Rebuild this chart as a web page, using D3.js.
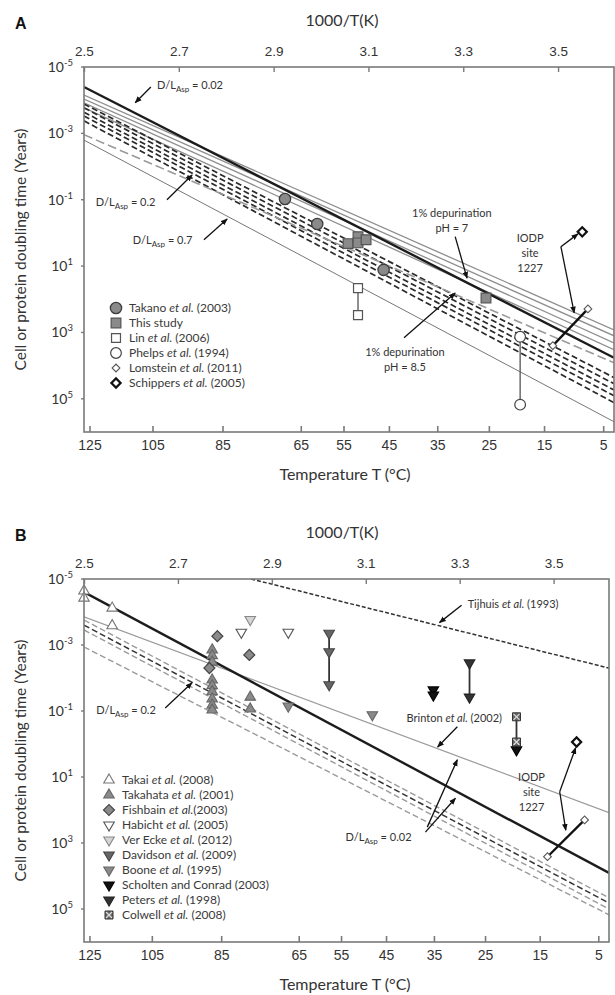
<!DOCTYPE html>
<html>
<head>
<meta charset="utf-8">
<script src="https://cdn.jsdelivr.net/npm/d3@7"></script>
<style>
  body { margin: 0; background: #fff; }
  svg { font-family: Lato, "Open Sans", sans-serif; }
</style>
</head>
<body>
<svg id="chart" width="615" height="995"></svg>
<script>
// ticks
const invTTicks = [2.5, 2.7, 2.9, 3.1, 3.3, 3.5];
const tempTicks = [125, 105, 85, 65, 55, 45, 35, 25, 15, 5];
const yTickExp = [-5, -3, -1, 1, 3, 5];

// model lines: [1000/T start, years start, 1000/T end, years end]
const aLineKinds = ["ph7", "ph7", "ph7", "ph7", "dl002", "ph85", "ph85", "ph85", "ph85", "ph85", "dl02", "dl07"];
const aLines = [
  [2.5, 7.0e-5, 3.618, 8.4e2],
  [2.5, 9.2e-5, 3.618, 1.26e3],
  [2.5, 1.2e-4, 3.618, 2.06e3],
  [2.5, 1.7e-4, 3.618, 3.3e3],
  [2.5, 4.0e-5, 3.618, 5.8e3],
  [2.5, 1.3e-4, 3.618, 2.3e4],
  [2.5, 1.7e-4, 3.618, 3.5e4],
  [2.5, 2.3e-4, 3.618, 5.4e4],
  [2.5, 3.0e-4, 3.618, 8.1e4],
  [2.5, 4.2e-4, 3.618, 1.3e5],
  [2.5, 1.1e-3, 3.618, 8.2e3],
  [2.5, 1.6e-3, 3.618, 4.9e5]
];
const bLineKinds = ["brinton", "tijhuis", "dl02g", "dl02k", "dl02g", "dl02g", "dl002"];
const bLines = [
  [2.5, 1.4e-4, 3.618, 1.2e2],
  [2.856, 1.0e-5, 3.618, 5.0e-3],
  [2.5, 1.75e-4, 3.618, 4.6e4],
  [2.5, 2.5e-4, 3.618, 6.6e4],
  [2.5, 3.5e-4, 3.618, 1.0e5],
  [2.5, 1.15e-3, 3.618, 1.5e5],
  [2.5, 2.5e-5, 3.618, 8.1e3]
];

// observations [1000/T, years]
const takano = [[2.924, 0.095], [2.992, 0.54], [3.132, 13]];
const thisStudy = [[3.057, 2.1], [3.078, 1.3], [3.078, 2.0], [3.095, 1.6], [3.348, 91]];
const lin = [[3.078, 46], [3.078, 300]];
const phelps = [[3.42, 1350], [3.42, 1.5e5]];
const lomsteinA = [[3.489, 2500], [3.563, 195]];
const schippersA = [[3.551, 0.93]];

const takai = [[2.5, 2.3e-5], [2.5, 3.8e-5], [2.56, 7.6e-5], [2.56, 2.6e-4]];
const takahata = [[2.773, 1.4e-3], [2.773, 2.1e-3], [2.773, 3.3e-3], [2.773, 1.15e-2], [2.773, 1.7e-2],
  [2.773, 2.6e-2], [2.773, 4.3e-2], [2.773, 6.6e-2], [2.773, 9.3e-2], [2.854, 3.8e-2], [2.854, 8.7e-2]];
const fishbain = [[2.784, 5.4e-4], [2.852, 2.0e-3], [2.767, 5.0e-3]];
const habicht = [[2.835, 4.1e-4], [2.935, 4.1e-4]];
const verEcke = [[2.854, 1.7e-4]];
const davidson = [[3.022, 4.4e-4], [3.022, 1.6e-3], [3.022, 1.6e-2]];
const boone = [[2.935, 7.1e-2], [3.114, 0.13]];
const scholten = [[3.244, 2.3e-2], [3.244, 3.3e-2], [3.421, 1.5]];
const peters = [[3.321, 3.5e-3], [3.321, 3.8e-2]];
const colwell = [[3.421, 0.15], [3.421, 0.87]];
const lomsteinB = [[3.487, 2600], [3.566, 200]];
const schippersB = [[3.549, 0.87]];

// connectors between observations
const aLinkKinds = ["thin", "thin", "thick"];
const aLinks = [[3.078, 46, 3.078, 300], [3.42, 1350, 3.42, 1.5e5], [3.489, 2500, 3.563, 195]];
const bLinkKinds = ["mid", "mid", "mid", "thick"];
const bLinks = [[3.022, 4.4e-4, 3.022, 1.6e-2], [3.321, 3.5e-3, 3.321, 3.8e-2],
  [3.421, 0.15, 3.421, 1.5], [3.487, 2600, 3.566, 200]];

// annotation arrows [from x, from t, to x, to t]
const aArrows = [
  [2.641, 4.0e-5, 2.608, 1.2e-4],
  [2.675, 0.10, 2.728, 0.018],
  [2.753, 1.6, 2.802, 0.38],
  [3.283, 1.3, 3.308, 23],
  [3.175, 1450, 3.283, 65],
  [3.506, 2.6, 3.542, 1.07],
  [3.506, 2.6, 3.534, 257]
];
const bArrows = [
  [3.304, 6.2e-5, 3.257, 2.1e-4],
  [2.673, 0.081, 2.730, 0.014],
  [3.295, 0.30, 3.253, 1.23],
  [3.231, 330, 3.295, 3.0],
  [3.227, 470, 3.291, 44],
  [3.513, 28, 3.547, 1.3],
  [3.513, 28, 3.526, 410]
];

// annotation texts [text, 1000/T, years]
const aNotes = [
  ["DL|0.02", 2.654, 3.5e-5, "start"],
  ["DL|0.2", 2.525, 0.117, "start"],
  ["DL|0.7", 2.603, 1.6, "start"],
  ["1% depurination", 3.276, 0.25, "middle"],
  ["pH = 7", 3.276, 0.71, "middle"],
  ["1% depurination", 3.177, 3800, "middle"],
  ["pH = 8.5", 3.177, 1.1e4, "middle"],
  ["IODP", 3.441, 1.4, "middle"],
  ["site", 3.441, 4.0, "middle"],
  ["1227", 3.441, 11.2, "middle"]
];
const bNotes = [
  ["Tijhuis et al. (1993)", 3.317, 5.8e-5, "start"],
  ["DL|0.2", 2.526, 0.093, "start"],
  ["Brinton et al. (2002)", 3.187, 0.16, "start"],
  ["DL|0.02", 3.057, 660, "start"],
  ["IODP", 3.453, 10, "middle"],
  ["site", 3.453, 28, "middle"],
  ["1227", 3.453, 81, "middle"]
];

const aLegend = ["Takano et al. (2003)", "This study", "Lin et al. (2006)", "Phelps et al. (1994)",
  "Lomstein et al. (2011)", "Schippers et al. (2005)"];
const aLegendKeys = ["takano", "thisStudy", "lin", "phelps", "lomstein", "schippers"];
const bLegend = ["Takai et al. (2008)", "Takahata et al. (2001)", "Fishbain et al.(2003)", "Habicht et al. (2005)",
  "Ver Ecke et al. (2012)", "Davidson et al. (2009)", "Boone et al. (1995)", "Scholten and Conrad (2003)",
  "Peters et al. (1998)", "Colwell et al. (2008)"];
const bLegendKeys = ["takai", "takahata", "fishbain", "habicht", "verEcke", "davidson", "boone", "scholten", "peters", "colwell"];

// ---- styles ----
const lineStyle = {
  dl002: { stroke: "#1c1c1c", w: 2.4, dash: null },
  ph7: { stroke: "#8e8e8e", w: 1.3, dash: null },
  ph85: { stroke: "#2a2a2a", w: 1.7, dash: "6,3" },
  dl02: { stroke: "#9a9a9a", w: 1.6, dash: "9,4" },
  dl07: { stroke: "#777", w: 1, dash: null },
  brinton: { stroke: "#9a9a9a", w: 1.2, dash: null },
  tijhuis: { stroke: "#333", w: 1.5, dash: "4,2" },
  dl02k: { stroke: "#333", w: 1.5, dash: "6,3" },
  dl02g: { stroke: "#9a9a9a", w: 1.4, dash: "6,3" }
};
const linkStyle = {
  thin: { stroke: "#555", w: 1.3 },
  mid: { stroke: "#333", w: 1.8 },
  thick: { stroke: "#111", w: 2.3 }
};
const tri = d3.symbol().type(d3.symbolTriangle).size(48)();
const sym = {
  takano: { path: d3.symbol().type(d3.symbolCircle).size(100)(), fill: "#8a8a8a", stroke: "#3c3c3c", w: 1.3 },
  thisStudy: { path: d3.symbol().type(d3.symbolSquare).size(95)(), fill: "#8a8a8a", stroke: "#555", w: 1.2 },
  lin: { path: d3.symbol().type(d3.symbolSquare).size(80)(), fill: "#fff", stroke: "#555", w: 1.2 },
  phelps: { path: d3.symbol().type(d3.symbolCircle).size(90)(), fill: "#fff", stroke: "#444", w: 1.2 },
  lomstein: { path: d3.symbol().type(d3.symbolSquare).size(30)(), fill: "#fff", stroke: "#555", w: 1.1, rot: 45 },
  schippers: { path: d3.symbol().type(d3.symbolSquare).size(42)(), fill: "#fff", stroke: "#111", w: 2.2, rot: 45 },
  takai: { path: tri, fill: "#fff", stroke: "#777", w: 1.1 },
  takahata: { path: tri, fill: "#8a8a8a", stroke: "#666", w: 1.1 },
  fishbain: { path: d3.symbol().type(d3.symbolSquare).size(60)(), fill: "#8a8a8a", stroke: "#444", w: 1.2, rot: 45 },
  habicht: { path: tri, fill: "#fff", stroke: "#555", w: 1.1, rot: 180 },
  verEcke: { path: tri, fill: "#d4d4d4", stroke: "#888", w: 1.1, rot: 180 },
  davidson: { path: tri, fill: "#666", stroke: "#444", w: 1.1, rot: 180 },
  boone: { path: tri, fill: "#8a8a8a", stroke: "#666", w: 1.1, rot: 180 },
  scholten: { path: tri, fill: "#111", stroke: "#000", w: 1.1, rot: 180 },
  peters: { path: tri, fill: "#333", stroke: "#222", w: 1.1, rot: 180 },
  colwell: { path: d3.symbol().type(d3.symbolSquare).size(64)(), fill: "#666", stroke: "#333", w: 1, cross: true }
};

const svg = d3.select("#chart");
const defs = svg.append("defs");
defs.append("marker").attr("id", "arr")
  .attr("viewBox", "0 0 10 8").attr("refX", 9).attr("refY", 4)
  .attr("markerWidth", 7).attr("markerHeight", 6).attr("markerUnits", "userSpaceOnUse")
  .attr("orient", "auto")
  .append("path").attr("d", "M0,0L10,4L0,8Z").attr("fill", "#111");

function putSymbol(g, key, px, py) {
  const s = sym[key];
  const node = g.append("g").attr("transform", `translate(${px},${py})`);
  node.append("path").attr("d", s.path)
    .attr("transform", s.rot ? `rotate(${s.rot})` : null)
    .attr("fill", s.fill).attr("stroke", s.stroke).attr("stroke-width", s.w);
  if (s.cross) {
    node.append("path").attr("d", "M-3,-3L3,3M-3,3L3,-3").attr("stroke", "#ddd").attr("stroke-width", 1.2);
  }
}

function richText(sel, str) {
  const parts = str.split("et al.");
  parts.forEach((p, i) => {
    if (p) sel.append("tspan").text(p);
    if (i < parts.length - 1) sel.append("tspan").attr("font-style", "italic").text("et al.");
  });
}

function noteText(g, str, px, py, anchor) {
  const t = g.append("text").attr("x", px).attr("y", py).attr("dy", "0.35em")
    .attr("text-anchor", anchor).attr("font-size", 11).attr("fill", "#333");
  if (str.startsWith("DL|")) {
    t.append("tspan").text("D/L");
    t.append("tspan").attr("font-size", 8).attr("dy", 3).text("Asp");
    t.append("tspan").attr("dy", -3).text(" = " + str.slice(3));
  } else {
    richText(t, str);
  }
}

function panel(cfg) {
  const g = svg.append("g");
  const x = d3.scaleLinear().domain([2.5, 3.618]).range([cfg.left, cfg.right]);
  const y = d3.scaleLog().domain([1e-5, 1e6]).range([cfg.top, cfg.bottom]);
  const W = cfg.right - cfg.left, H = cfg.bottom - cfg.top;

  defs.append("clipPath").attr("id", "clip" + cfg.id).append("rect")
    .attr("x", cfg.left).attr("y", cfg.top).attr("width", W).attr("height", H);

  // panel letter and titles
  g.append("text").attr("x", 15).attr("y", cfg.top - 38).attr("font-family", "'Liberation Sans', Arial, sans-serif")
    .attr("font-weight", "bold").attr("font-size", 16).attr("fill", "#111").text(cfg.id);
  g.append("text").attr("x", 342).attr("y", cfg.top - 41).attr("text-anchor", "middle")
    .attr("font-size", 16).attr("fill", "#333").text("1000/T(K)");
  g.append("text").attr("x", 345).attr("y", cfg.bottom + 48).attr("text-anchor", "middle")
    .attr("font-size", 16).attr("fill", "#333").text("Temperature T (°C)");
  g.append("text").attr("transform", `translate(26,${cfg.top + H / 2}) rotate(-90)`)
    .attr("text-anchor", "middle").attr("font-size", 15.5).attr("fill", "#333")
    .text("Cell or protein doubling time (Years)");

  // model lines
  const lg = g.append("g").attr("clip-path", `url(#clip${cfg.id})`);
  cfg.lines.forEach((d, i) => {
    const s = lineStyle[cfg.kinds[i]];
    lg.append("line")
      .attr("x1", x(d[0])).attr("y1", y(d[1])).attr("x2", x(d[2])).attr("y2", y(d[3]))
      .attr("stroke", s.stroke).attr("stroke-width", s.w).attr("stroke-dasharray", s.dash);
  });

  // connectors
  cfg.links.forEach((d, i) => {
    const s = linkStyle[cfg.linkKinds[i]];
    g.append("line")
      .attr("x1", x(d[0])).attr("y1", y(d[1])).attr("x2", x(d[2])).attr("y2", y(d[3]))
      .attr("stroke", s.stroke).attr("stroke-width", s.w);
  });

  // observations
  cfg.series.forEach(([key, pts]) => {
    pts.forEach(p => putSymbol(g, key, x(p[0]), y(p[1])));
  });

  // arrows
  cfg.arrows.forEach(d => {
    g.append("line")
      .attr("x1", x(d[0])).attr("y1", y(d[1])).attr("x2", x(d[2])).attr("y2", y(d[3]))
      .attr("stroke", "#111").attr("stroke-width", 1.3).attr("marker-end", "url(#arr)");
  });

  // notes
  cfg.notes.forEach(d => noteText(g, d[0], x(d[1]), y(d[2]), d[3]));

  // frame
  g.append("rect").attr("x", cfg.left).attr("y", cfg.top).attr("width", W).attr("height", H)
    .attr("fill", "none").attr("stroke", "#7a7a7a").attr("stroke-width", 1.6);

  // top axis
  const topAx = g.append("g").attr("transform", `translate(0,${cfg.top})`)
    .call(d3.axisTop(x).tickValues(invTTicks).tickFormat(d3.format(".1f"))
      .tickSizeInner(-5).tickSizeOuter(0).tickPadding(11));
  topAx.select(".domain").remove();
  topAx.selectAll("line").attr("stroke", "#7a7a7a").attr("stroke-width", 1.4);
  topAx.selectAll("text").attr("font-size", 13.5).attr("fill", "#333").attr("font-family", null);

  // bottom axis (°C)
  const botAx = g.append("g").attr("transform", `translate(0,${cfg.bottom})`)
    .call(d3.axisBottom(x).tickValues(tempTicks.map(t => 1000 / (t + 273.15)))
      .tickFormat((d, i) => tempTicks[i]).tickSizeInner(-6).tickSizeOuter(0).tickPadding(8));
  botAx.select(".domain").remove();
  botAx.selectAll("line").attr("stroke", "#7a7a7a").attr("stroke-width", 1.6);
  botAx.selectAll("text").attr("font-size", 14).attr("fill", "#333").attr("font-family", null);

  // left axis (log years)
  yTickExp.forEach(e => {
    const py = y(Math.pow(10, e));
    g.append("line").attr("x1", cfg.left - 3).attr("x2", cfg.left).attr("y1", py).attr("y2", py)
      .attr("stroke", "#7a7a7a").attr("stroke-width", 1.4);
    const t = g.append("text").attr("x", cfg.left - 11).attr("y", py).attr("dy", "0.35em")
      .attr("text-anchor", "end").attr("font-size", 14).attr("fill", "#333");
    t.append("tspan").text("10");
    t.append("tspan").attr("font-size", 9.5).attr("dy", -6).text(e < 0 ? "-" + Math.abs(e) : String(e));
  });

  // legend
  cfg.legend.forEach((label, i) => {
    const py = cfg.legendY + i * 15;
    putSymbol(g, cfg.legendKeys[i], cfg.legendX, py);
    const t = g.append("text").attr("x", cfg.legendX + 13).attr("y", py).attr("dy", "0.35em")
      .attr("font-size", 12).attr("fill", "#3a3a3a");
    richText(t, label);
  });
}

panel({
  id: "A", left: 84, right: 614, top: 67, bottom: 432,
  lines: aLines, kinds: aLineKinds, links: aLinks, linkKinds: aLinkKinds,
  series: [["takano", takano], ["thisStudy", thisStudy], ["lin", lin], ["phelps", phelps],
    ["lomstein", lomsteinA], ["schippers", schippersA]],
  arrows: aArrows, notes: aNotes,
  legend: aLegend, legendKeys: aLegendKeys, legendX: 116, legendY: 308
});

panel({
  id: "B", left: 84, right: 609, top: 579, bottom: 942,
  lines: bLines, kinds: bLineKinds, links: bLinks, linkKinds: bLinkKinds,
  series: [["takai", takai], ["takahata", takahata], ["fishbain", fishbain], ["habicht", habicht],
    ["verEcke", verEcke], ["davidson", davidson], ["boone", boone], ["scholten", scholten],
    ["peters", peters], ["colwell", colwell], ["lomstein", lomsteinB], ["schippers", schippersB]],
  arrows: bArrows, notes: bNotes,
  legend: bLegend, legendKeys: bLegendKeys, legendX: 109, legendY: 780
});
</script>
</body>
</html>
